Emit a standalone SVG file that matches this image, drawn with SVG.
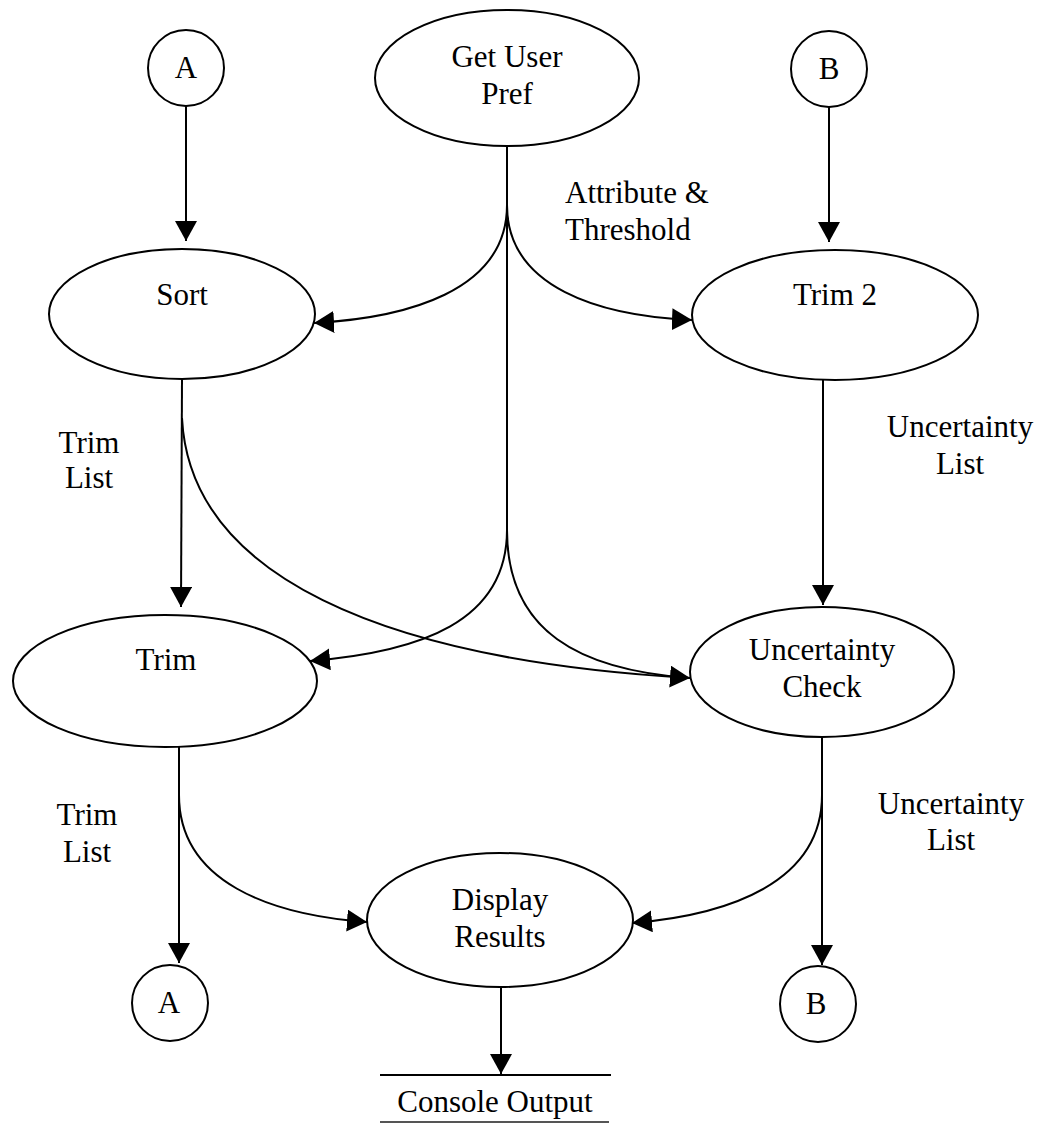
<svg xmlns="http://www.w3.org/2000/svg" width="1041" height="1132" viewBox="0 0 1041 1132">
<style>
.n{fill:#fff;stroke:#000;stroke-width:2}
.c{fill:none;stroke:#000;stroke-width:2}
text{font-family:"Liberation Serif","Times New Roman",serif;font-size:31px;fill:#000;text-anchor:middle}
.l{text-anchor:start}
</style>
<defs>
<marker id="ah" markerUnits="userSpaceOnUse" markerWidth="21" markerHeight="22" refX="20" refY="11" orient="auto">
<path d="M0,0 L20,11 L0,22 z" fill="#000"/>
</marker>
</defs>
<rect width="1041" height="1132" fill="#fff"/>
<g id="connectors">
<line class="c" x1="186" y1="106" x2="186" y2="241" marker-end="url(#ah)"/>
<line class="c" x1="829" y1="107" x2="829" y2="242" marker-end="url(#ah)"/>
<path class="c" d="M507,146 L507,533"/>
<path class="c" d="M507,205 C507,292 405,318 314,323" marker-end="url(#ah)"/>
<path class="c" d="M507,205 C507,288 600,316 692,320" marker-end="url(#ah)"/>
<path class="c" d="M507,530 C507,622 420,652 310,661" marker-end="url(#ah)"/>
<path class="c" d="M507,530 C507,632 580,670 690,678" marker-end="url(#ah)"/>
<line class="c" x1="182" y1="378" x2="181" y2="607" marker-end="url(#ah)"/>
<path class="c" d="M182,418 C190,575 380,660 690,678"/>
<line class="c" x1="823" y1="380" x2="823" y2="605" marker-end="url(#ah)"/>
<line class="c" x1="179" y1="737" x2="179" y2="963" marker-end="url(#ah)"/>
<path class="c" d="M179,795 C179,882 270,915 367,922" marker-end="url(#ah)"/>
<line class="c" x1="822" y1="738" x2="822" y2="965" marker-end="url(#ah)"/>
<path class="c" d="M822,795 C822,882 730,915 632,923" marker-end="url(#ah)"/>
<line class="c" x1="501" y1="987" x2="501" y2="1074" marker-end="url(#ah)"/>
</g>
<g id="labels">
<text class="l" x="565" y="203">Attribute &amp;</text>
<text class="l" x="565" y="240">Threshold</text>
<text x="89" y="453">Trim</text>
<text x="89" y="488">List</text>
<text x="960" y="437">Uncertainty</text>
<text x="960" y="474">List</text>
<text x="87" y="825">Trim</text>
<text x="87" y="862">List</text>
<text x="951" y="814">Uncertainty</text>
<text x="951" y="850">List</text>
</g>
<g id="conA1"><circle class="n" cx="186" cy="68" r="38"/><text x="186" y="78">A</text></g>
<g id="conB1"><circle class="n" cx="829" cy="69" r="38"/><text x="829" y="79">B</text></g>
<g id="getUserPref"><ellipse class="n" cx="507" cy="78" rx="132" ry="68"/><text x="507" y="67">Get User</text><text x="507" y="104">Pref</text></g>
<g id="sort"><ellipse class="n" cx="182" cy="314" rx="133" ry="65"/><text x="182" y="305">Sort</text></g>
<g id="trim2"><ellipse class="n" cx="835" cy="315" rx="143" ry="65"/><text x="835" y="305">Trim 2</text></g>
<g id="trim"><ellipse class="n" cx="165" cy="681" rx="152" ry="66"/><text x="166" y="670">Trim</text></g>
<g id="uncertaintyCheck"><ellipse class="n" cx="822" cy="672" rx="132" ry="65"/><text x="822" y="660">Uncertainty</text><text x="822" y="697">Check</text></g>
<g id="displayResults"><ellipse class="n" cx="500" cy="920" rx="133" ry="67"/><text x="500" y="910">Display</text><text x="500" y="947">Results</text></g>
<g id="conA2"><circle class="n" cx="170" cy="1003" r="38"/><text x="169" y="1013">A</text></g>
<g id="conB2"><circle class="n" cx="818" cy="1004" r="38"/><text x="816" y="1014">B</text></g>
<g id="consoleOutput">
<line x1="380" y1="1075" x2="611" y2="1075" stroke="#000" stroke-width="2"/>
<line x1="380" y1="1122" x2="609" y2="1122" stroke="#555" stroke-width="2"/>
<text x="495" y="1112">Console Output</text>
</g>
</svg>
